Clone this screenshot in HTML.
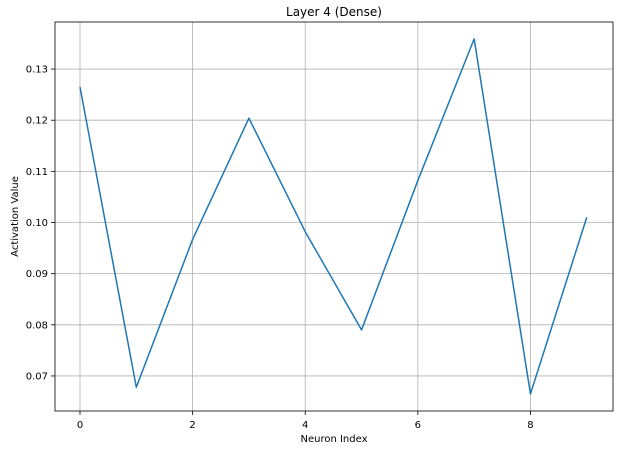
<!DOCTYPE html>
<html><head><meta charset="utf-8"><style>
body{margin:0;background:#fff;font-family:"Liberation Sans","DejaVu Sans",sans-serif;}
svg text{font-family:"DejaVu Sans","Liberation Sans",sans-serif;fill:#000;}
</style></head><body>
<svg id="chart" width="628" height="452"></svg>
<script>
const categories=[0,1,2,3,4,5,6,7,8,9];
const activations=[0.1265,0.0678,0.0967,0.1204,0.0982,0.0790,0.1082,0.1359,0.0665,0.1010];
const xTicks=[0,2,4,6,8];
const yTicks=[0.07,0.08,0.09,0.10,0.11,0.12,0.13];
const yTickLabels=["0.07","0.08","0.09","0.10","0.11","0.12","0.13"];

const L=55,R=613,T=22,B=411;
const xMin=-0.444,xMax=9.466,yMin=0.06315,yMax=0.1392;
const sx=v=>L+(v-xMin)/(xMax-xMin)*(R-L);
const sy=v=>B-(v-yMin)/(yMax-yMin)*(B-T);
const svg=document.getElementById('chart');
const NS='http://www.w3.org/2000/svg';
function mk(tag,attrs,parent){const e=document.createElementNS(NS,tag);for(const k in attrs)e.setAttribute(k,attrs[k]);(parent||svg).appendChild(e);return e;}

xTicks.forEach(t=>{
  const x=sx(t);
  const g=mk('line',{x1:x,x2:x,y1:T,y2:B,stroke:'#b0b0b0','stroke-width':0.8});
  
  
  mk('line',{x1:x,x2:x,y1:B,y2:B+4,stroke:'#000','stroke-width':0.8});
  const tx=mk('text',{x:x,y:B+17,'text-anchor':'middle','font-size':10});
  tx.textContent=t;
  
  
});
yTicks.forEach((t,i)=>{
  const y=sy(t);
  const g=mk('line',{x1:L,x2:R,y1:y,y2:y,stroke:'#b0b0b0','stroke-width':0.8});
  
  
  mk('line',{x1:L-4,x2:L,y1:y,y2:y,stroke:'#000','stroke-width':0.8});
  const tx=mk('text',{x:L-7,y:y+3.5,'text-anchor':'end','font-size':10});
  tx.textContent=yTickLabels[i];
  
  
});
const pts=categories.map((c,i)=>sx(c)+','+sy(activations[i])).join(' ');
const line=mk('polyline',{points:pts,fill:'none',stroke:'#1f77b4','stroke-width':1.5,'stroke-linejoin':'round'});


const frame=mk('rect',{x:L,y:T,width:R-L,height:B-T,fill:'none',stroke:'#000','stroke-width':0.8});


const title=mk('text',{x:(L+R)/2,y:16,'text-anchor':'middle','font-size':12});
title.textContent='Layer 4 (Dense)';


const xl=mk('text',{x:(L+R)/2,y:442,'text-anchor':'middle','font-size':10});
xl.textContent='Neuron Index';


const yl=mk('text',{x:18,y:(T+B)/2,'text-anchor':'middle','font-size':10,transform:'rotate(-90 18 '+((T+B)/2)+')'});
yl.textContent='Activation Value';


</script>
</body></html>
